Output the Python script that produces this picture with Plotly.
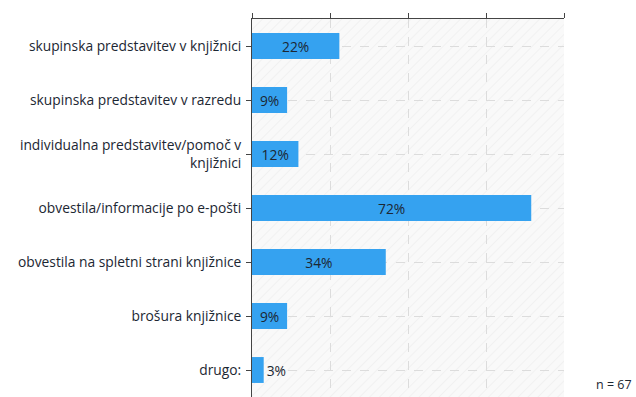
import base64
import plotly.graph_objects as go

categories = [
    "skupinska predstavitev v knjižnici",
    "skupinska predstavitev v razredu",
    "individualna predstavitev/pomoč v<br>knjižnici",
    "obvestila/informacije po e-pošti",
    "obvestila na spletni strani knjižnice",
    "brošura knjižnice",
    "drugo:",
]
values = [22.4, 9.0, 11.9, 71.6, 34.3, 9.0, 3.0]
labels = ["22%", "9%", "12%", "72%", "34%", "9%", "3%"]
n_text = "n = 67"
x_range = [0, 80]
x_ticks = [0, 20, 40, 60, 80]

FONT = "Open Sans"
TXT = "#1c2733"
FS = 13.8

# subtle diagonal hatch for plot background
svg = (
    '<svg xmlns="http://www.w3.org/2000/svg" width="312" height="378">'
    '<defs><pattern id="p" width="7" height="7" patternUnits="userSpaceOnUse" '
    'patternTransform="rotate(45)"><rect width="7" height="7" fill="#f9f9f9"/>'
    '<line x1="0" y1="0" x2="0" y2="7" stroke="#ececec" stroke-width="1.2"/></pattern></defs>'
    '<rect width="312" height="378" fill="url(#p)"/></svg>'
)
svg_uri = "data:image/svg+xml;base64," + base64.b64encode(svg.encode()).decode()

fig = go.Figure()

fig.add_trace(go.Bar(
    x=values, y=categories, orientation="h",
    marker=dict(color="#35a2f0", line=dict(width=0)),
    width=0.48,
    text=labels, textposition="auto",
    insidetextanchor="middle",
    insidetextfont=dict(color=TXT, size=FS, family=FONT),
    outsidetextfont=dict(color=TXT, size=FS, family=FONT),
    cliponaxis=False,
    hoverinfo="skip",
))

fig.update_layout(
    width=636, height=397,
    margin=dict(l=252, r=72, t=19, b=0),
    paper_bgcolor="white",
    plot_bgcolor="#f9f9f9",
    font=dict(family=FONT, size=FS, color=TXT),
    showlegend=False,
    images=[dict(source=svg_uri, xref="paper", yref="paper", x=0, y=1, sizex=1, sizey=1,
                 xanchor="left", yanchor="top", sizing="stretch", layer="below")],
    xaxis=dict(
        side="top", range=x_range, tickvals=x_ticks, showticklabels=False,
        ticks="outside", ticklen=5, tickcolor="#444", showline=True, linecolor="#444",
        linewidth=1, showgrid=True, gridcolor="#dcdcdc", griddash="dash", zeroline=False,
        fixedrange=True, layer="above traces",
    ),
    yaxis=dict(
        autorange="reversed", categoryorder="array", categoryarray=categories,
        ticks="outside", ticklen=5, tickcolor="#444", showline=True, linecolor="#444",
        linewidth=1, showgrid=True, gridcolor="#dcdcdc", griddash="dash",
        tickfont=dict(size=FS, family=FONT, color=TXT), ticklabelstandoff=2,
    ),
    annotations=[dict(
        text=n_text, xref="paper", yref="paper", x=1, y=0, xanchor="right", yanchor="bottom",
        xshift=70, yshift=2, showarrow=False, font=dict(size=12.5, family=FONT, color=TXT),
    )],
)

fig.write_html("out.html")
